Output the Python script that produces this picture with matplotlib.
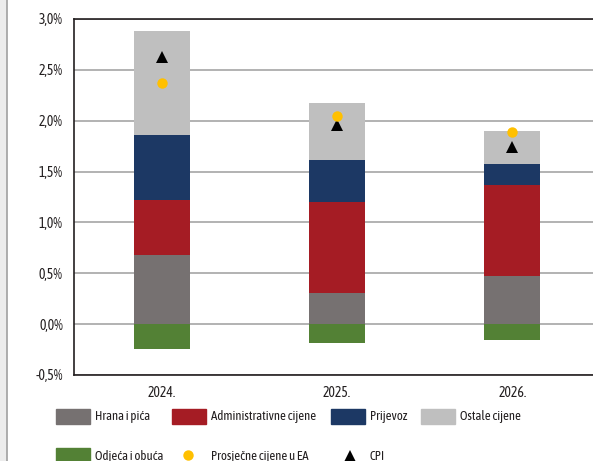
import matplotlib.pyplot as plt
from matplotlib.patches import Rectangle
from matplotlib.lines import Line2D
import numpy as np

plt.rcParams['font.family'] = ['Asap Condensed', 'Lato', 'DejaVu Sans']
FS = 9.3

years = ['2024.', '2025.', '2026.']
hrana = [0.68, 0.31, 0.47]
admin = [0.54, 0.89, 0.90]
prijevoz = [0.64, 0.41, 0.20]
ostale = [1.02, 0.56, 0.33]
odjeca = [-0.24, -0.19, -0.16]
ea = [2.37, 2.05, 1.89]
cpi = [2.63, 1.96, 1.74]

yticks = [-0.5, 0.0, 0.5, 1.0, 1.5, 2.0, 2.5, 3.0]
ytick_labels = ['-0,5%', '0,0%', '0,5%', '1,0%', '1,5%', '2,0%', '2,5%', '3,0%']

c_hrana = '#767171'
c_admin = '#a51c24'
c_prij = '#1c3864'
c_ost = '#bfbfbf'
c_odj = '#538135'
c_ea = '#ffc000'
c_txt = '#231f20'

W, H = 593, 461
fig = plt.figure(figsize=(W / 100, H / 100), dpi=100)
ax = fig.add_axes([74 / W, 1 - 375 / H, 526 / W, 356 / H])

x = np.arange(len(years))
bw = 0.32
ax.bar(x, hrana, bw, color=c_hrana, zorder=3)
b1 = np.array(hrana)
ax.bar(x, admin, bw, bottom=b1, color=c_admin, zorder=3)
b2 = b1 + np.array(admin)
ax.bar(x, prijevoz, bw, bottom=b2, color=c_prij, zorder=3)
b3 = b2 + np.array(prijevoz)
ax.bar(x, ostale, bw, bottom=b3, color=c_ost, zorder=3)
ax.bar(x, odjeca, bw, color=c_odj, zorder=3)

ax.plot(x, ea, 'o', color=c_ea, ms=7.5, mew=0, zorder=5)
ax.plot(x, cpi, '^', color='black', ms=9, mew=0, zorder=4)

ax.set_xlim(-0.5, 2.5)
ax.set_ylim(-0.5, 3.0)
ax.set_yticks(yticks)
ax.set_yticklabels(ytick_labels)
ax.set_xticks(x)
ax.set_xticklabels(years)
ax.tick_params(length=0, labelsize=FS, colors=c_txt)
ax.tick_params(axis='y', pad=8, labelsize=10)
ax.tick_params(axis='x', pad=8, labelsize=9.8)
ax.yaxis.grid(True, color='#a6a6a6', lw=1.2, zorder=1)
for s in ['left', 'top', 'bottom']:
    ax.spines[s].set_color(c_txt)
    ax.spines[s].set_linewidth(1.2)
ax.spines['right'].set_visible(False)

# legend, drawn by hand
def px(xp, yp):
    return xp / W, 1 - yp / H

row1 = [('Hrana i pića', c_hrana, 56), ('Administrativne cijene', c_admin, 172),
        ('Prijevoz', c_prij, 331), ('Ostale cijene', c_ost, 421)]
for lab, col, x0 in row1:
    fig.patches.append(Rectangle(px(x0, 424), 34 / W, 15 / H, color=col,
                                 transform=fig.transFigure, figure=fig))
    fig.text(*px(x0 + 39, 416.5), lab, fontsize=FS, va='center', color=c_txt)

fig.patches.append(Rectangle(px(56, 463), 34 / W, 15 / H, color=c_odj,
                             transform=fig.transFigure, figure=fig))
fig.text(*px(95, 456), 'Odjeća i obuća', fontsize=FS, va='center', color=c_txt)
fig.add_artist(Line2D([188 / W], [1 - 455 / H], marker='o', color=c_ea, ms=7.5, mew=0,
                      transform=fig.transFigure))
fig.text(*px(211, 456), 'Prosječne cijene u EA', fontsize=FS, va='center', color=c_txt)
fig.add_artist(Line2D([350 / W], [1 - 456 / H], marker='^', color='black', ms=9, mew=0,
                      transform=fig.transFigure))
fig.text(*px(369, 456), 'CPI', fontsize=FS, va='center', color=c_txt)

# left border strip
fig.patches.append(Rectangle((0, 0), 6 / W, 1, color='#ececec',
                             transform=fig.transFigure, figure=fig))
fig.add_artist(Line2D([6.5 / W, 6.5 / W], [0, 1], color='#a0a0a0', lw=1.2,
                      transform=fig.transFigure))

fig.savefig('out.png', dpi=100)
